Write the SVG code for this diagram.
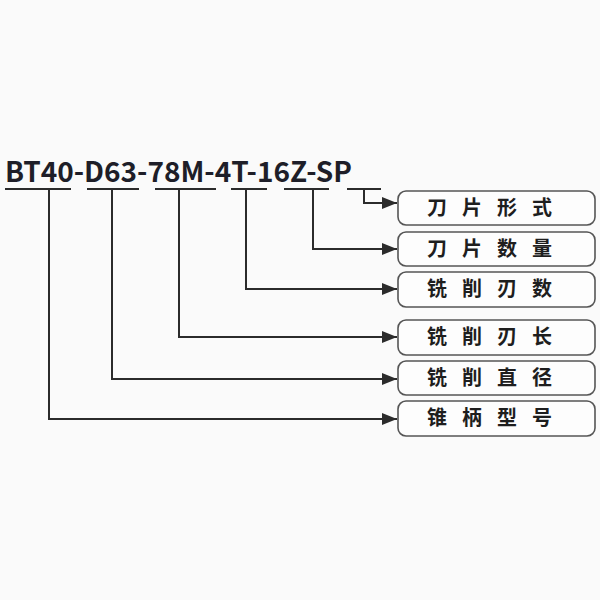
<svg xmlns="http://www.w3.org/2000/svg" width="600" height="600" viewBox="0 0 600 600">
<style>
.ln{fill:none;stroke:#2b2b2b;stroke-width:2}
.box{fill:#fdfdfd;stroke:#555;stroke-width:1.6}
.lbl{font-family:"Noto Sans CJK SC","Noto Sans",sans-serif;font-weight:bold;font-size:20px;fill:#1e1e1e;letter-spacing:15px}
.code{font-family:"Noto Sans CJK SC","Noto Sans",sans-serif;font-weight:bold;font-size:28px;fill:#1e1e28}
</style>
<defs>
<marker id="ah" markerUnits="userSpaceOnUse" markerWidth="16" markerHeight="12" refX="15" refY="6" orient="auto">
<path d="M0,0 L15,6 L0,12 z" fill="#2b2b2b"/>
</marker>
</defs>
<rect width="600" height="600" fill="#fafafa"/>
<g id="code">
<text class="code" x="5" y="182" textLength="347" lengthAdjust="spacingAndGlyphs">BT40-D63-78M-4T-16Z-SP</text>
</g>
<g id="connectors">
<path class="ln" d="M5,189 H71 M87,189 H139 M155,189 H216 M231,189 H267 M284,189 H329 M347,189 H381"/>
<path class="ln" marker-end="url(#ah)" d="M364,189 V203 H397"/>
<path class="ln" marker-end="url(#ah)" d="M313,189 V249 H397"/>
<path class="ln" marker-end="url(#ah)" d="M246,189 V289 H397"/>
<path class="ln" marker-end="url(#ah)" d="M179,189 V337 H397"/>
<path class="ln" marker-end="url(#ah)" d="M112,189 V379 H397"/>
<path class="ln" marker-end="url(#ah)" d="M49,189 V419 H397"/>
</g>
<g id="n1"><rect class="box" x="398" y="191" width="197" height="34" rx="8"/><text class="lbl" x="427" y="215">刀片形式</text></g>
<g id="n2"><rect class="box" x="398" y="232" width="197" height="34" rx="8"/><text class="lbl" x="427" y="256">刀片数量</text></g>
<g id="n3"><rect class="box" x="398" y="272" width="197" height="35" rx="8"/><text class="lbl" x="427" y="296">铣削刃数</text></g>
<g id="n4"><rect class="box" x="398" y="320" width="197" height="35" rx="8"/><text class="lbl" x="427" y="344">铣削刃长</text></g>
<g id="n5"><rect class="box" x="398" y="361" width="197" height="34" rx="8"/><text class="lbl" x="427" y="385">铣削直径</text></g>
<g id="n6"><rect class="box" x="398" y="401" width="197" height="35" rx="8"/><text class="lbl" x="427" y="425">锥柄型号</text></g>
</svg>
